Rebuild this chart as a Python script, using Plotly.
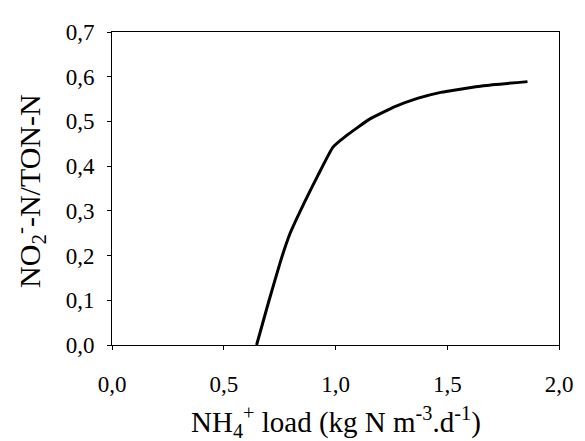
import plotly.graph_objects as go

# Data
nh4_load = [0.647, 0.70, 0.757, 0.797, 0.86, 0.922, 0.988, 1.046, 1.149, 1.266, 1.37, 1.471, 1.662, 1.859]
no2_ratio = [0.0, 0.095, 0.192, 0.25, 0.318, 0.380, 0.442, 0.467, 0.504, 0.533, 0.552, 0.565, 0.580, 0.589]

x_ticks = [0.0, 0.5, 1.0, 1.5, 2.0]
x_tick_labels = ["0,0", "0,5", "1,0", "1,5", "2,0"]
y_ticks = [0.0, 0.1, 0.2, 0.3, 0.4, 0.5, 0.6, 0.7]
y_tick_labels = ["0,0", "0,1", "0,2", "0,3", "0,4", "0,5", "0,6", "0,7"]

font_family = "Liberation Serif, Times New Roman, serif"

fig = go.Figure()
fig.add_trace(go.Scatter(
    x=nh4_load, y=no2_ratio, mode="lines",
    line=dict(color="black", width=3, shape="spline", smoothing=0.4),
    showlegend=False,
))

axis_common = dict(
    showgrid=False, zeroline=False, showline=True, linecolor="black", linewidth=1,
    mirror=True, ticks="outside", ticklen=4, tickwidth=1, tickcolor="black",
    tickfont=dict(family=font_family, size=23, color="black"),
)

fig.update_xaxes(range=[0, 2.0], tickvals=x_ticks, ticktext=x_tick_labels,
                 ticklabelstandoff=14, **axis_common)
fig.update_yaxes(range=[0, 0.7], tickvals=y_ticks, ticktext=y_tick_labels,
                 ticklabelstandoff=8, **axis_common)

# page offset of 8px (body margin) is compensated in the figure size/margins
W, H = 577, 433
ml, mr, mt, mb = 104, 18, 15, 96
pw, ph = W - ml - mr, H - mt - mb

fig.add_annotation(
    text="NH<sub>4</sub><sup>+</sup> load (kg N m<sup>-3</sup>.d<sup>-1</sup>)",
    xref="paper", yref="paper", x=(340 - 112) / pw, y=-(424 - 345) / ph,
    xanchor="center", yanchor="middle",
    showarrow=False, font=dict(family=font_family, size=29, color="black"),
)
fig.add_annotation(
    text="NO<sub>2</sub><sup>-</sup>-N/TON-N",
    xref="paper", yref="paper", x=-(112 - 28) / pw, y=(345 - 186) / ph,
    xanchor="center", yanchor="middle",
    textangle=-90, showarrow=False, font=dict(family=font_family, size=30, color="black"),
)

fig.update_layout(
    width=W, height=H,
    margin=dict(l=ml, r=mr, t=mt, b=mb),
    plot_bgcolor="white", paper_bgcolor="white",
)

fig.write_html("out.html")
